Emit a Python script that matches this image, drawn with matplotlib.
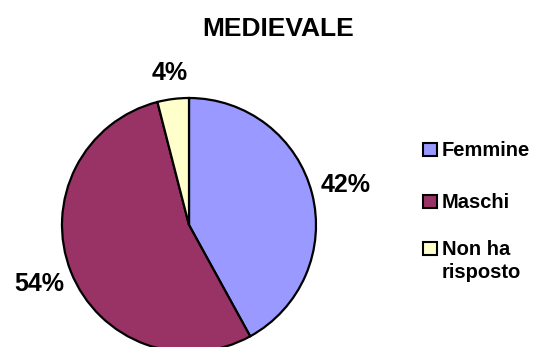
import numpy as np
import matplotlib
matplotlib.use('Agg')
from matplotlib import pyplot as plt
from matplotlib.patches import Rectangle

plt.rcParams['font.family'] = ['Liberation Sans', 'DejaVu Sans']
plt.rcParams['font.weight'] = 'bold'

# dati del grafico
titolo = 'MEDIEVALE'
categorie = ['Femmine', 'Maschi', 'Non ha\nrisposto']
percentuali = [42, 54, 4]
colori = ['#9999FF', '#993366', '#FFFFCC']

W, H = 536, 347
fig = plt.figure(figsize=(W / 100, H / 100), dpi=100)

def px(x, y):
    # coordinate in pixel -> frazione della figura
    return x / W, 1 - y / H

# torta: centro (189, 225), raggio 127 px
cx, cy, r = 189, 225, 127
ax = fig.add_axes([(cx - r) / W, 1 - (cy + r) / H, 2 * r / W, 2 * r / H])

wedges, testi, pct = ax.pie(percentuali, colors=colori, startangle=90, counterclock=False,
                            radius=1, autopct='%1.0f%%', pctdistance=1.27,
                            wedgeprops=dict(edgecolor='black', linewidth=1.6),
                            textprops=dict(fontsize=18, fontweight='bold'))
# pie() imposta i limiti a +-1.25, li rimetto al raggio
ax.set_xlim(-1, 1)
ax.set_ylim(-1, 1)
ax.set_aspect('equal')
ax.axis('off')
for w in wedges:
    w.set_clip_on(False)

# la fetta piccola ha l'etichetta un po' più vicina
for w, t in zip(wedges, pct):
    if w.theta2 - w.theta1 < 30:
        a = np.deg2rad((w.theta1 + w.theta2) / 2)
        t.set_position((1.21 * np.cos(a), 1.21 * np.sin(a)))
    t.set_clip_on(False)

fig.text(*px(278, 29), titolo, ha='center', va='center', fontsize=19, fontweight='bold')

# legenda (quadratino allineato alla prima riga)
righe_y = [149, 201, 248]
for nome, col, y in zip(categorie, colori, righe_y):
    x0, y0 = px(423, y + 6.5)
    fig.patches.append(Rectangle((x0, y0), 14 / W, 13 / H, transform=fig.transFigure,
                                 facecolor=col, edgecolor='black', linewidth=1.5))
    for i, riga in enumerate(nome.split('\n')):
        fig.text(*px(442, y + 7 + 23 * i), riga, ha='left', va='baseline', fontsize=14.5,
                 fontweight='bold')

fig.savefig('out.png', dpi=100)
